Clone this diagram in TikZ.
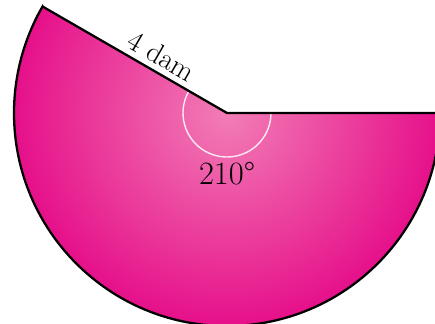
\documentclass[tikz,border=0pt]{standalone}
\usetikzlibrary{positioning, calc}
\definecolor{PinkIn}{HTML}{F27DB6}
\definecolor{PinkOut}{HTML}{E6108A}
\tikzset{
    rimline/.style={line width=1.3pt, black, line join=miter},
    anglemark/.style={white, opacity=0.85, line width=0.8pt},
    measuretext/.style={font=\fontsize{16.5}{19}\selectfont, text=black, inner sep=2pt},
}
\begin{document}
\begin{tikzpicture}
    \useasboundingbox (0,0) rectangle (8.7,6.46);
    % Centro e raggio del settore
    \coordinate (O) at (4.54,4.20);
    \def\rad{4.26}
    \coordinate (A) at ($(O)+(150:\rad)$); % estremo del raggio obliquo
    \coordinate (B) at ($(O)+(0:\rad)$);   % estremo del raggio orizzontale

    % Settore sfumato
    \begin{scope}
        \clip (O) -- (B) arc[start angle=0, end angle=-210, radius=\rad] -- cycle;
        \shade[inner color=PinkIn, outer color=PinkOut] (O) circle (\rad);
    \end{scope}

    % Segno dell'angolo
    \draw[anglemark] ($(O)+(150:0.88)$) arc[start angle=150, end angle=360, radius=0.88];

    % Contorno
    \draw[rimline] (A) -- (O) -- (B) arc[start angle=0, end angle=-210, radius=\rad] -- cycle;

    % Etichette
    \path (A) -- (O) node[pos=0.6, sloped, above, measuretext, inner sep=3.5pt] (side) {4 dam};
    \node[measuretext, font=\fontsize{18.5}{21}\selectfont] (angle) at (4.54,2.98) {210\textdegree};
\end{tikzpicture}
\end{document}
